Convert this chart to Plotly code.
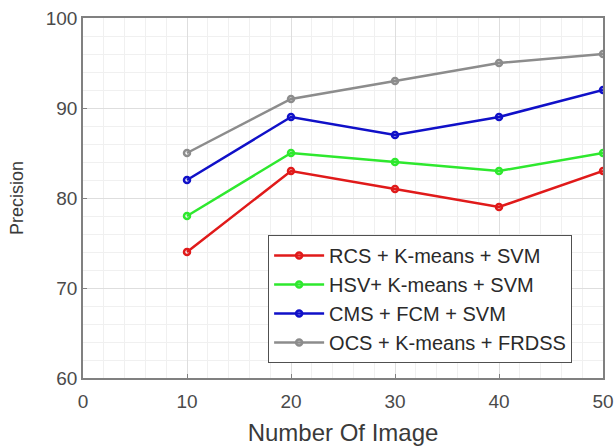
import plotly.graph_objects as go

x_vals = [10, 20, 30, 40, 50]
rcs = [74, 83, 81, 79, 83]
hsv = [78, 85, 84, 83, 85]
cms = [82, 89, 87, 89, 92]
ocs = [85, 91, 93, 95, 96]
names = ["RCS + K-means + SVM", "HSV+ K-means + SVM", "CMS + FCM + SVM", "OCS + K-means + FRDSS"]
colors = ["#e01a1a", "#2ee82e", "#1010c8", "#8c8c8c"]
series = [rcs, hsv, cms, ocs]

FONT = "Liberation Sans, Arial"

fig = go.Figure()
for nm, ys, c in zip(names, series, colors):
    fig.add_trace(go.Scatter(
        x=x_vals, y=ys, name=nm, mode="lines+markers",
        line=dict(color=c, width=2.5),
        marker=dict(symbol="circle-open", size=6, color=c, line=dict(width=2.5, color=c)),
    ))

axis_common = dict(
    showline=True, linecolor="#808080", linewidth=1.5, mirror=True,
    showgrid=True, gridcolor="#dedede", gridwidth=1,
    ticks="inside", ticklen=4, tickcolor="#808080",
    tickfont=dict(family=FONT, size=19, color="#4a4a4a"),
    zeroline=False, automargin=False,
)

fig.update_xaxes(range=[0, 50], dtick=10, tick0=0, ticklabelstandoff=5,
                 minor=dict(dtick=2, showgrid=True, gridcolor="#f0f0f0", gridwidth=1, ticks=""),
                 title=dict(text="Number Of Image", font=dict(family=FONT, size=24, color="#3a3a3a"), standoff=14),
                 **axis_common)
fig.update_yaxes(range=[60, 100], dtick=10, tick0=60,
                 minor=dict(dtick=2, showgrid=True, gridcolor="#f0f0f0", gridwidth=1, ticks=""),
                 title=dict(text="Precision", font=dict(family=FONT, size=18, color="#3a3a3a"), standoff=17),
                 **axis_common)

fig.update_layout(
    width=616, height=446,
    margin=dict(l=83, r=13, t=18, b=68),
    paper_bgcolor="white", plot_bgcolor="white",
    font=dict(family=FONT, color="#2a2a2a"),
    showlegend=True,
    legend=dict(x=0.356, y=0.397, xanchor="left", yanchor="top",
                bgcolor="white", bordercolor="#505050", borderwidth=1,
                font=dict(family=FONT, size=20, color="#2a2a2a"),
                tracegroupgap=0, itemwidth=50),
)

fig.write_html("out.html")
